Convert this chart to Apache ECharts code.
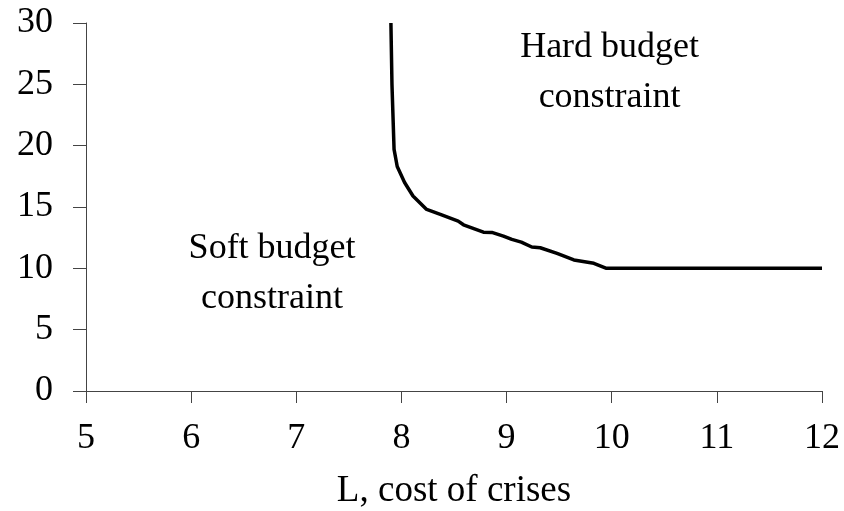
<!DOCTYPE html>
<html lang="en">
<head>
    <meta charset="UTF-8" />
    <title>Budget constraint frontier</title>
    <script src="https://cdn.jsdelivr.net/npm/echarts@6/dist/echarts.min.js"></script>
    <style>
        body { margin: 0; background: #fff; }
        #chart { width: 844px; height: 511px; }
    </style>
</head>
<body>
    <div id="chart"></div>
    <script>
        // frontier between soft and hard budget constraint
        const costL = [7.90, 7.91, 7.93, 7.96, 8.03, 8.11, 8.24, 8.37, 8.54, 8.59, 8.78, 8.86,
                       8.97, 9.05, 9.14, 9.24, 9.32, 9.48, 9.64, 9.83, 9.95, 12];
        const frontier = [30, 25, 19.7, 18.3, 17.0, 15.9, 14.8, 14.4, 13.85, 13.55, 12.95, 12.93,
                          12.63, 12.36, 12.14, 11.74, 11.68, 11.22, 10.68, 10.41, 10.0, 10.0];

        // region labels, placed in data coordinates
        const regionNames = ['Hard budget\nconstraint', 'Soft budget\nconstraint'];
        const regionX = [9.98, 6.77];
        const regionY = [26.0, 9.6];

        const xTicks = [5, 6, 7, 8, 9, 10, 11, 12];
        const yTicks = [0, 5, 10, 15, 20, 25, 30];

        const serif = "'Liberation Serif', 'Times New Roman', serif";
        const axisGrey = '#444';

        const chart = echarts.init(document.getElementById('chart'));

        chart.setOption({
            animation: false,
            grid: { left: 86, right: 22, top: 23, bottom: 120, containLabel: false, outerBoundsMode: 'none' },
            xAxis: {
                type: 'value',
                min: xTicks[0],
                max: xTicks[xTicks.length - 1],
                interval: 1,
                name: 'L, cost of crises',
                nameLocation: 'middle',
                nameGap: 82,
                nameTextStyle: { color: '#000', fontFamily: serif, fontSize: 37 },
                axisLine: { lineStyle: { color: axisGrey, width: 1 } },
                axisTick: { show: true, length: 12, lineStyle: { color: axisGrey } },
                axisLabel: { color: '#000', fontFamily: serif, fontSize: 36, margin: 30 },
                splitLine: { show: false }
            },
            yAxis: {
                type: 'value',
                min: yTicks[0],
                max: yTicks[yTicks.length - 1],
                interval: 5,
                axisLine: { show: true, lineStyle: { color: axisGrey, width: 1 } },
                axisTick: { show: true, length: 13, lineStyle: { color: axisGrey } },
                axisLabel: { color: '#000', fontFamily: serif, fontSize: 36, margin: 33 },
                splitLine: { show: false }
            },
            series: [
                {
                    type: 'line',
                    data: costL.map((x, i) => [x, frontier[i]]),
                    showSymbol: false,
                    smooth: false,
                    lineStyle: { color: '#000', width: 3.5 }
                },
                {
                    type: 'scatter',
                    symbolSize: 0,
                    silent: true,
                    itemStyle: { opacity: 1 },
                    data: regionNames.map((n, i) => ({ name: n, value: [regionX[i], regionY[i]] })),
                    label: {
                        show: true,
                        position: 'inside',
                        formatter: p => p.name,
                        color: '#000',
                        opacity: 1,
                        textBorderWidth: 0,
                        fontFamily: serif,
                        fontSize: 36,
                        lineHeight: 50,
                        align: 'center'
                    }
                }
            ]
        });
    </script>
</body>
</html>
